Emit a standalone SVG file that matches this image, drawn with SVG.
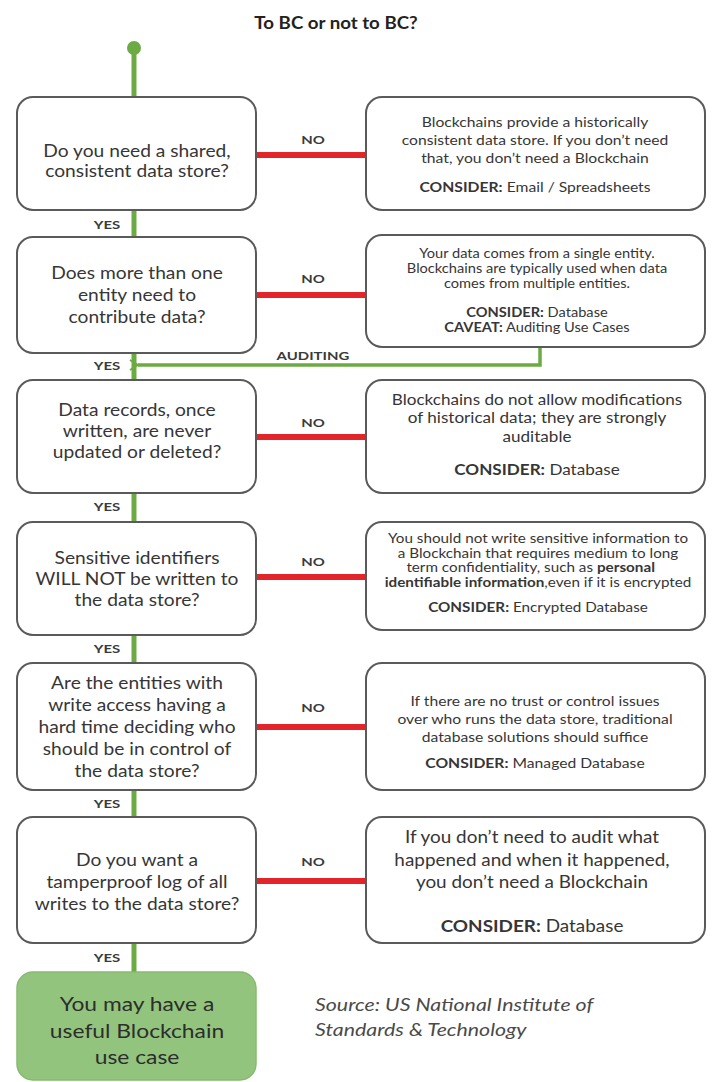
<svg xmlns="http://www.w3.org/2000/svg" width="715" height="1082" viewBox="0 0 715 1082">
<style>
text{font-family:Lato,"Open Sans","Liberation Sans",sans-serif;fill:#363636;text-anchor:middle}
.q{font-size:17px}
.r{font-size:14px}
.rs{font-size:12.5px}
.r3{font-size:14.5px}
.rl{font-size:17.5px}
.b{font-weight:700}
.lbl{font-size:11.5px;font-weight:700;fill:#3a3a3a}
.title{font-size:17px;font-weight:700;fill:#222}
.box{fill:#fff;stroke:#5a5a5a;stroke-width:2}
.yes{fill:none;stroke:#6cab43;stroke-width:5}
.no{fill:none;stroke:#e3242b;stroke-width:6}
.aud{fill:none;stroke:#6cab43;stroke-width:3.5}
.src{font-size:17.5px;font-style:italic;fill:#4a4a4a;text-anchor:start}
.g{font-size:19.5px;fill:#2d2d2d}
</style>
<defs>
<marker id="arr" markerWidth="10" markerHeight="12" refX="1" refY="6" orient="auto" markerUnits="userSpaceOnUse">
<polyline points="9,1 1,6 9,11" fill="none" stroke="#6cab43" stroke-width="2"/>
</marker>
</defs>
<g transform="translate(336 0) scale(1.1 1)"><text class="title" x="0" y="29">To BC or not to BC?</text></g>
<g id="connectors">
<circle cx="134" cy="48" r="7" fill="#6cab43"/>
<line class="yes" x1="134" y1="48" x2="134" y2="97"/>
<line class="yes" x1="134" y1="210" x2="134" y2="237"/>
<line class="yes" x1="134" y1="353" x2="134" y2="380"/>
<line class="yes" x1="134" y1="493" x2="134" y2="522"/>
<line class="yes" x1="134" y1="635" x2="134" y2="663"/>
<line class="yes" x1="134" y1="790" x2="134" y2="817"/>
<line class="yes" x1="134" y1="943" x2="134" y2="972"/>
<line class="no" x1="256" y1="155" x2="366" y2="155"/>
<line class="no" x1="256" y1="295" x2="366" y2="295"/>
<line class="no" x1="256" y1="437" x2="366" y2="437"/>
<line class="no" x1="256" y1="577" x2="366" y2="577"/>
<line class="no" x1="256" y1="727" x2="366" y2="727"/>
<line class="no" x1="256" y1="881" x2="366" y2="881"/>
<polyline class="aud" points="540,347 540,365 138,365" marker-end="url(#arr)"/>
<g transform="translate(313 0) scale(1.3 1)">
<text class="lbl" x="0" y="144">NO</text>
<text class="lbl" x="0" y="283">NO</text>
<text class="lbl" x="0" y="427">NO</text>
<text class="lbl" x="0" y="566">NO</text>
<text class="lbl" x="0" y="712">NO</text>
<text class="lbl" x="0" y="866">NO</text>
<text class="lbl" x="0" y="360">AUDITING</text>
</g>
<g transform="translate(107 0) scale(1.3 1)">
<text class="lbl" x="0" y="229">YES</text>
<text class="lbl" x="0" y="370">YES</text>
<text class="lbl" x="0" y="511">YES</text>
<text class="lbl" x="0" y="653">YES</text>
<text class="lbl" x="0" y="808">YES</text>
<text class="lbl" x="0" y="962">YES</text>
</g>
</g>
<g id="q1"><rect class="box" x="17" y="97" width="239" height="113" rx="16"/>
<g transform="translate(137 0) scale(1.13 1)">
<text class="q" x="0" y="157">Do you need a shared,</text>
<text class="q" x="0" y="177">consistent data store?</text></g></g>
<g id="a1"><rect class="box" x="366" y="97" width="339" height="113" rx="16"/>
<g transform="translate(535 0) scale(1.12 1)">
<text class="r" x="0" y="127">Blockchains provide a historically</text>
<text class="r" x="0" y="145">consistent data store. If you don’t need</text>
<text class="r" x="0" y="163">that, you don’t need a Blockchain</text>
<text class="r" x="0" y="192"><tspan class="b">CONSIDER:</tspan> Email / Spreadsheets</text></g></g>
<g id="q2"><rect class="box" x="17" y="237" width="239" height="116" rx="16"/>
<g transform="translate(137 0) scale(1.13 1)">
<text class="q" x="0" y="279">Does more than one</text>
<text class="q" x="0" y="301">entity need to</text>
<text class="q" x="0" y="323">contribute data?</text></g></g>
<g id="a2"><rect class="box" x="366" y="235" width="339" height="112" rx="16"/>
<g transform="translate(537 0) scale(1.17 1)">
<text class="rs" x="0" y="258">Your data comes from a single entity.</text>
<text class="rs" x="0" y="273">Blockchains are typically used when data</text>
<text class="rs" x="0" y="288">comes from multiple entities.</text>
<text class="rs" x="0" y="317"><tspan class="b">CONSIDER:</tspan> Database</text>
<text class="rs" x="0" y="332"><tspan class="b">CAVEAT:</tspan> Auditing Use Cases</text></g></g>
<g id="q3"><rect class="box" x="17" y="380" width="239" height="113" rx="16"/>
<g transform="translate(137 0) scale(1.13 1)">
<text class="q" x="0" y="416">Data records, once</text>
<text class="q" x="0" y="437">written, are never</text>
<text class="q" x="0" y="458">updated or deleted?</text></g></g>
<g id="a3"><rect class="box" x="366" y="380" width="339" height="113" rx="16"/>
<g transform="translate(537 0) scale(1.18 1)">
<text class="r3" x="0" y="405">Blockchains do not allow modifications</text>
<text class="r3" x="0" y="423">of historical data; they are strongly</text>
<text class="r3" x="0" y="442">auditable</text>
<text class="r3" x="0" y="475"><tspan class="b">CONSIDER:</tspan> Database</text></g></g>
<g id="q4"><rect class="box" x="17" y="522" width="239" height="113" rx="16"/>
<g transform="translate(137 0) scale(1.13 1)">
<text class="q" x="0" y="564">Sensitive identifiers</text>
<text class="q" x="0" y="585">WILL NOT be written to</text>
<text class="q" x="0" y="606">the data store?</text></g></g>
<g id="a4"><rect class="box" x="366" y="522" width="339" height="108" rx="16"/>
<g transform="translate(538 0) scale(1.22 1)">
<text class="rs" x="0" y="543">You should not write sensitive information to</text>
<text class="rs" x="0" y="558">a Blockchain that requires medium to long</text>
<text class="rs" x="-6" y="572">term confidentiality, such as <tspan class="b">personal</tspan></text>
<text class="rs" x="0" y="587"><tspan class="b">identifiable information</tspan>,even if it is encrypted</text>
<text class="rs" x="0" y="612"><tspan class="b">CONSIDER:</tspan> Encrypted Database</text></g></g>
<g id="q5"><rect class="box" x="17" y="663" width="239" height="127" rx="16"/>
<g transform="translate(137 0) scale(1.13 1)">
<text class="q" x="0" y="689">Are the entities with</text>
<text class="q" x="0" y="711">write access having a</text>
<text class="q" x="0" y="733">hard time deciding who</text>
<text class="q" x="0" y="755">should be in control of</text>
<text class="q" x="0" y="777">the data store?</text></g></g>
<g id="a5"><rect class="box" x="366" y="663" width="339" height="127" rx="16"/>
<g transform="translate(535 0) scale(1.12 1)">
<text class="r" x="0" y="706">If there are no trust or control issues</text>
<text class="r" x="0" y="724">over who runs the data store, traditional</text>
<text class="r" x="0" y="742">database solutions should suffice</text>
<text class="r" x="0" y="768"><tspan class="b">CONSIDER:</tspan> Managed Database</text></g></g>
<g id="q6"><rect class="box" x="17" y="817" width="239" height="126" rx="16"/>
<g transform="translate(137 0) scale(1.13 1)">
<text class="q" x="0" y="866">Do you want a</text>
<text class="q" x="0" y="888">tamperproof log of all</text>
<text class="q" x="0" y="910">writes to the data store?</text></g></g>
<g id="a6"><rect class="box" x="366" y="817" width="339" height="126" rx="16"/>
<g transform="translate(532 0) scale(1.08 1)">
<text class="rl" x="0" y="843">If you don’t need to audit what</text>
<text class="rl" x="0" y="866">happened and when it happened,</text>
<text class="rl" x="0" y="888">you don’t need a Blockchain</text>
<text class="rl" x="0" y="932"><tspan class="b">CONSIDER:</tspan> Database</text></g></g>
<g id="result"><rect x="17" y="972" width="239" height="108" rx="16" fill="#93c47d" stroke="#86ba6e" stroke-width="1.5"/>
<g transform="translate(137 0) scale(1.17 1)">
<text class="g" x="0" y="1011">You may have a</text>
<text class="g" x="0" y="1038">useful Blockchain</text>
<text class="g" x="0" y="1064">use case</text></g></g>
<g id="source" transform="translate(315 0) scale(1.22 1)">
<text class="src" x="0" y="1011">Source: US National Institute of</text>
<text class="src" x="0" y="1036">Standards &amp; Technology</text></g>
</svg>
